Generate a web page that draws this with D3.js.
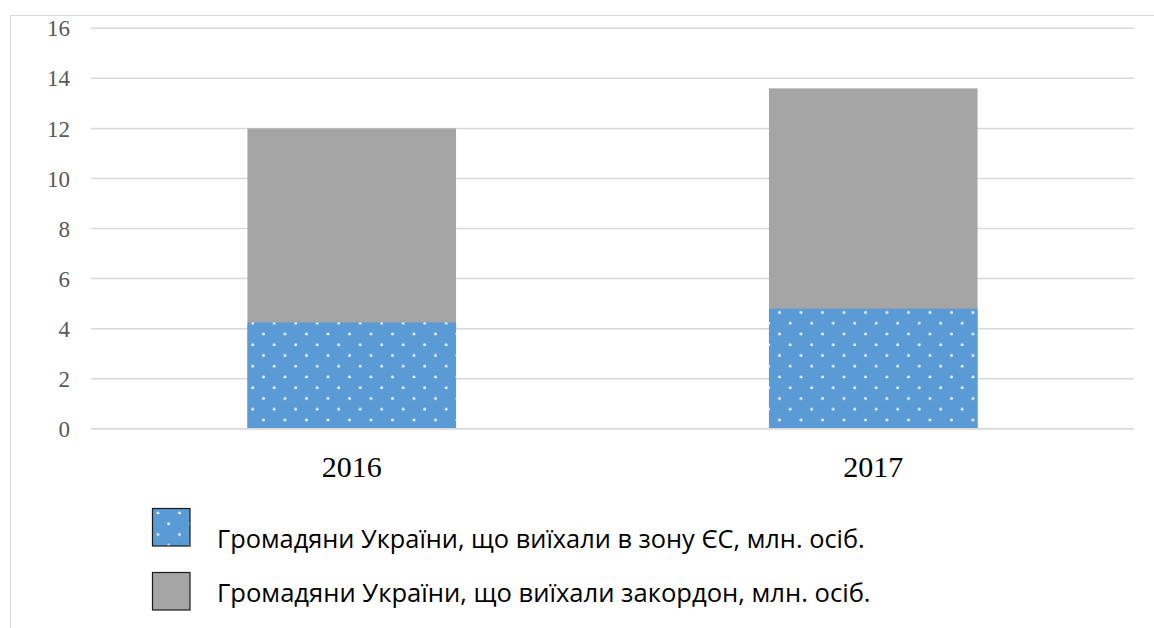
<!DOCTYPE html>
<html>
<head>
<meta charset="utf-8">
<script src="https://cdn.jsdelivr.net/npm/d3@7"></script>
<style>
  html, body { margin: 0; padding: 0; background: #ffffff; }
  svg { display: block; }
  .serif { font-family: "Liberation Serif", "Times New Roman", serif; }
  .sans { font-family: "Open Sans", "Noto Sans", sans-serif; }
</style>
</head>
<body>
<svg id="chart" width="1154" height="628"></svg>
<script>
// ---- Data ----
const categories = ["2016", "2017"];
const euValues = [4.25, 4.8];        // Громадяни України, що виїхали в зону ЄС, млн. осіб.
const abroadValues = [12.0, 13.6];   // Громадяни України, що виїхали закордон, млн. осіб.
const yTicks = [0, 2, 4, 6, 8, 10, 12, 14, 16];
const seriesNames = [
  "Громадяни України, що виїхали в зону ЄС, млн. осіб.",
  "Громадяни України, що виїхали закордон, млн. осіб."
];

(function () {
// ---- Layout ----
const svg = d3.select("#chart");
const pLeft = 91, pRight = 1134, pTop = 28.3, pBottom = 428.8;

const x = d3.scaleBand().domain(categories).range([pLeft, pRight])
  .paddingInner(0.6).paddingOuter(0.3);
const y = d3.scaleLinear().domain([0, 16]).range([pBottom, pTop]);

// pattern
const defs = svg.append("defs");
const pat = defs.append("pattern").attr("id", "dots")
  .attr("patternUnits", "userSpaceOnUse")
  .attr("width", 21.5).attr("height", 21.5)
  .attr("patternTransform", "translate(0,-5)");
pat.append("rect").attr("width", 21.5).attr("height", 21.5).attr("fill", "#5B9BD5");
pat.append("circle").attr("cx", 16.2).attr("cy", 5.8).attr("r", 1.4).attr("fill", "#ffffff").attr("opacity", 0.95);
pat.append("circle").attr("cx", 5.5).attr("cy", 16.55).attr("r", 1.4).attr("fill", "#ffffff").attr("opacity", 0.95);

const patL = defs.append("pattern").attr("id", "dotsLegend")
  .attr("patternUnits", "userSpaceOnUse")
  .attr("width", 21.5).attr("height", 21.5)
  .attr("patternTransform", "translate(2,2)");
patL.append("rect").attr("width", 21.5).attr("height", 21.5).attr("fill", "#5B9BD5");
patL.append("circle").attr("cx", 16.2).attr("cy", 5.8).attr("r", 1.3).attr("fill", "#ffffff");
patL.append("circle").attr("cx", 5.5).attr("cy", 16.55).attr("r", 1.3).attr("fill", "#ffffff");

// outer frame (top & left)
svg.append("line").attr("x1", 10.5).attr("x2", 1154).attr("y1", 15.5).attr("y2", 15.5)
  .attr("stroke", "#d9d9d9").attr("stroke-width", 1);
svg.append("line").attr("x1", 10.5).attr("x2", 10.5).attr("y1", 15.5).attr("y2", 628)
  .attr("stroke", "#d9d9d9").attr("stroke-width", 1);

// gridlines
svg.append("g").selectAll("line").data(yTicks).join("line")
  .attr("x1", pLeft).attr("x2", pRight)
  .attr("y1", d => y(d)).attr("y2", d => y(d))
  .attr("stroke", "#d9d9d9").attr("stroke-width", 1.5);

// y axis labels
const yAxis = d3.axisLeft(y).tickValues(yTicks).tickSize(0).tickPadding(0).tickFormat(d3.format("d"));
const gy = svg.append("g").attr("transform", "translate(70,0)").call(yAxis);
gy.select(".domain").remove();
gy.attr("font-family", null).attr("font-size", null);
gy.selectAll("text")
  .attr("class", "serif")
  .style("font-family", "'Liberation Serif', 'Times New Roman', serif")
  .style("font-size", "23px").attr("fill", "#595959").attr("dy", "0.33em");

// bars: grey (abroad total) behind, blue (EU) in front
svg.append("g").selectAll("rect").data(categories).join("rect")
  .attr("x", d => x(d)).attr("width", x.bandwidth())
  .attr("y", (d, i) => y(abroadValues[i]))
  .attr("height", (d, i) => y(0) - y(abroadValues[i]))
  .attr("fill", "#A5A5A5");
svg.append("g").selectAll("rect").data(categories).join("rect")
  .attr("x", d => x(d)).attr("width", x.bandwidth())
  .attr("y", (d, i) => y(euValues[i]))
  .attr("height", (d, i) => y(0) - y(euValues[i]))
  .attr("fill", "url(#dots)");

// baseline
svg.append("line").attr("x1", pLeft).attr("x2", pRight).attr("y1", y(0)).attr("y2", y(0))
  .attr("stroke", "#d9d9d9").attr("stroke-width", 1.5);

// x axis labels
const xAxis = d3.axisBottom(x).tickSize(0).tickPadding(0);
const gx = svg.append("g").attr("transform", "translate(0,477)").call(xAxis);
gx.select(".domain").remove();
gx.attr("font-family", null).attr("font-size", null);
gx.selectAll("text")
  .style("font-family", "'Liberation Serif', 'Times New Roman', serif")
  .style("font-size", "30px").attr("fill", "#000000").attr("dy", 0).attr("y", 0);

// legend
const legendBoxes = [{y: 508.5, fill: "url(#dotsLegend)"}, {y: 572.5, fill: "#A5A5A5"}];
const legendBaselines = [548, 602];
const lg = svg.append("g");
lg.selectAll("rect").data(legendBoxes).join("rect")
  .attr("x", 152.5).attr("y", d => d.y).attr("width", 37.5).attr("height", 37.5)
  .attr("fill", d => d.fill).attr("stroke", "#1a1a1a").attr("stroke-width", 1.2);
const targetWidths = [648, 654];
lg.selectAll("text").data(seriesNames).join("text")
  .attr("x", 217).attr("y", (d, i) => legendBaselines[i])
  .style("font-family", "'Open Sans', 'Noto Sans', sans-serif")
  .style("font-size", "22px").attr("fill", "#000000")
  .text(d => d)
  .each(function(d, i) {
    const len = this.getComputedTextLength();
    const fs = 22 * targetWidths[i] / len;
    d3.select(this).style("font-size", Math.max(17, Math.min(28, fs)) + "px");
  });
})();
</script>
</body>
</html>
